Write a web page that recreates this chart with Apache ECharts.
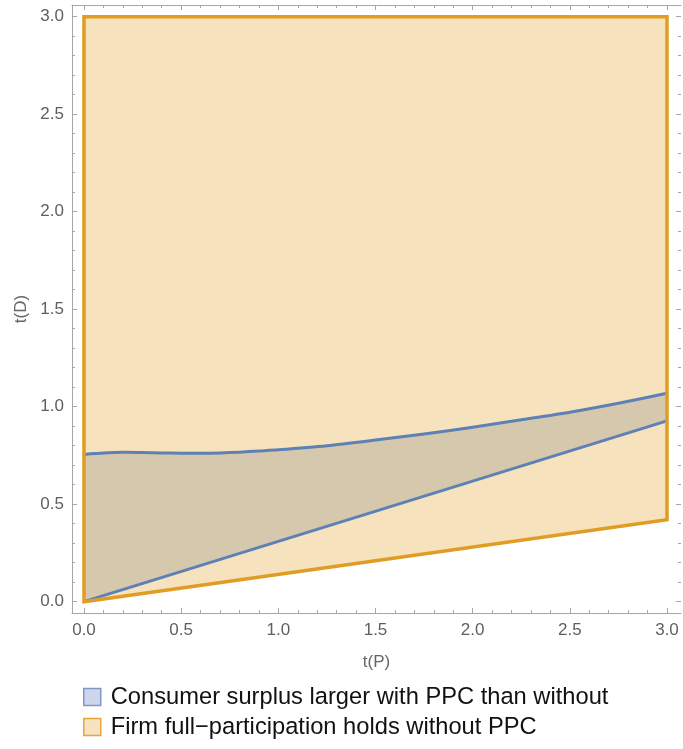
<!DOCTYPE html>
<html>
<head>
<meta charset="utf-8">
<script src="https://cdn.jsdelivr.net/npm/echarts@6/dist/echarts.min.js"></script>
<style>
  html, body { margin: 0; padding: 0; background: #ffffff; }
  #chart { width: 683px; height: 749px; }
</style>
</head>
<body>
<div id="chart"></div>
<script>
// Upper boundary of the consumer-surplus region, t(D) as a function of t(P)
const surplusTopTP = [0, 0.1, 0.2, 0.3, 0.4, 0.5, 0.6, 0.7, 0.8, 0.9, 1.0, 1.25, 1.5, 1.75, 2.0, 2.25, 2.5, 2.75, 3.0];
const surplusTopTD = [0.755, 0.762, 0.766, 0.765, 0.763, 0.761, 0.761, 0.763, 0.767, 0.773, 0.779, 0.800, 0.829, 0.860, 0.895, 0.933, 0.972, 1.018, 1.069];
// Lower boundary of the consumer-surplus region (straight line)
const surplusBottomTP = [0, 3];
const surplusBottomTD = [0, 0.927];
// Full-participation region (polygon corners)
const firmTP = [0, 3, 3, 0];
const firmTD = [0, 0.42, 3, 3];

const majorTicks = [0, 0.5, 1.0, 1.5, 2.0, 2.5, 3.0];
const minorTicks = [];
for (let i = 1; i < 30; i++) { if (i % 5 !== 0) minorTicks.push(+(i / 10).toFixed(1)); }

const seriesSurplus = 'Consumer surplus larger with PPC than without';
const seriesFirm = 'Firm full\u2212participation holds without PPC';

const ORANGE = '#E19C24';
const ORANGE_FILL = '#F7E2BE';
const BLUE = '#5E81B5';
const BLUE_FILL = '#D5C8AD';
const FRAME = '#A6A6A6';
const TICK_LABEL = '#5F5F5F';
const FONT = '"Liberation Sans", Arial, sans-serif';

const X_MIN = -0.0617, X_MAX = 3.072;
const Y_MIN = -0.058, Y_MAX = 3.06;

function pts(api, xs, ys) {
  return xs.map((x, i) => api.coord([x, ys[i]]));
}

function axisDef(isX, position, ticks, len, withLine, withLabels, name) {
  return {
    type: 'value', position: position,
    min: isX ? X_MIN : Y_MIN, max: isX ? X_MAX : Y_MAX,
    name: name || '', nameLocation: 'middle', nameGap: isX ? 41 : 42,
    nameTextStyle: { color: '#666666', fontSize: 17, fontFamily: FONT },
    axisLine: { show: withLine, onZero: false, lineStyle: { color: FRAME, width: 1 } },
    axisTick: { show: true, inside: true, length: len, customValues: ticks, lineStyle: { color: FRAME, width: 1 } },
    axisLabel: withLabels ? {
      show: true, customValues: ticks, margin: isX ? 9 : 8, color: TICK_LABEL, fontSize: 17, fontFamily: FONT,
      formatter: v => v.toFixed(1)
    } : { show: false },
    splitLine: { show: false }
  };
}

const chart = echarts.init(document.getElementById('chart'), null, { renderer: 'canvas' });

chart.setOption({
  backgroundColor: '#ffffff',
  animation: false,
  grid: { left: 72, right: 2, top: 5, bottom: 136, containLabel: false },
  xAxis: [
    axisDef(true, 'bottom', majorTicks, 5, true, true, 't(P)'),
    axisDef(true, 'bottom', minorTicks, 3, false, false),
    axisDef(true, 'top', majorTicks, 5, true, false),
    axisDef(true, 'top', minorTicks, 3, false, false)
  ],
  yAxis: [
    axisDef(false, 'left', majorTicks, 5, true, true, 't(D)'),
    axisDef(false, 'left', minorTicks, 3, false, false),
    axisDef(false, 'right', majorTicks, 5, false, false),
    axisDef(false, 'right', minorTicks, 3, false, false)
  ],
  legend: {
    orient: 'vertical', left: 83, top: 685, padding: 0,
    itemWidth: 17, itemHeight: 17, itemGap: 6,
    textStyle: { color: '#111111', fontSize: 23.7, lineHeight: 24, fontFamily: FONT, padding: [0, 0, 0, 5] },
    selectedMode: false,
    data: [
      { name: seriesSurplus, icon: 'rect', itemStyle: { color: '#CDD6EA', borderColor: '#7F98C8', borderWidth: 1.5 } },
      { name: seriesFirm, icon: 'rect', itemStyle: { color: '#F8E3BF', borderColor: '#E8A53C', borderWidth: 1.5 } }
    ]
  },
  series: [
    {
      // full-participation region fill
      name: seriesFirm, type: 'custom', xAxisIndex: 0, yAxisIndex: 0,
      data: [[0, 0]], silent: true,
      renderItem: (params, api) => ({
        type: 'polygon',
        shape: { points: pts(api, firmTP, firmTD) },
        style: { fill: ORANGE_FILL, stroke: null }
      })
    },
    {
      // consumer-surplus region fill and its two boundary curves
      name: seriesSurplus, type: 'custom', xAxisIndex: 0, yAxisIndex: 0,
      data: [[0, 0]], silent: true,
      renderItem: (params, api) => {
        const top = pts(api, surplusTopTP, surplusTopTD);
        const bottom = pts(api, surplusBottomTP, surplusBottomTD);
        return {
          type: 'group',
          children: [
            { type: 'polygon', shape: { points: top.concat(bottom.slice().reverse()) },
              style: { fill: BLUE_FILL, stroke: null } },
            { type: 'polyline', shape: { points: top, smooth: 0.25 },
              style: { fill: null, stroke: BLUE, lineWidth: 3, lineJoin: 'round' } },
            { type: 'polyline', shape: { points: bottom },
              style: { fill: null, stroke: BLUE, lineWidth: 3 } }
          ]
        };
      }
    },
    {
      // full-participation region outline
      name: seriesFirm + ' outline', type: 'custom', xAxisIndex: 0, yAxisIndex: 0,
      data: [[0, 0]], silent: true,
      renderItem: (params, api) => ({
        type: 'polygon',
        shape: { points: pts(api, firmTP, firmTD) },
        style: { fill: null, stroke: ORANGE, lineWidth: 3.5, lineJoin: 'miter' }
      })
    }
  ]
});
</script>
</body>
</html>
